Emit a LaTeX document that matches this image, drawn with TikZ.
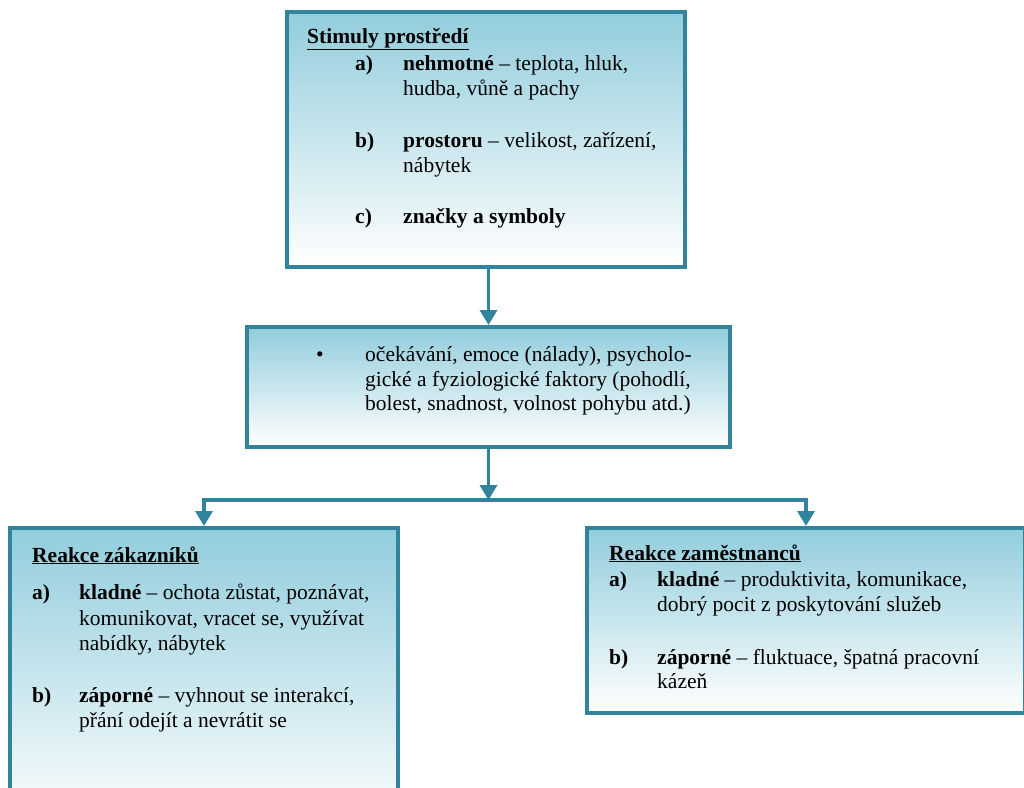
\documentclass[tikz,border=0pt]{standalone}
\usepackage{fontspec}
\setmainfont{Liberation Serif}
\usetikzlibrary{arrows.meta}
\definecolor{tealb}{RGB}{49,132,155}
\definecolor{lblue}{RGB}{146,205,220}
\begin{document}
\begin{tikzpicture}[x=1pt,y=-1pt,
  font=\fontsize{21.5}{25}\selectfont,
  box/.style={draw=tealb, line width=4pt, top color=lblue, bottom color=white, inner sep=0pt},
  conn/.style={draw=tealb, line width=3.5pt, line join=miter, -{Triangle[width=17pt,length=15pt]}},
  txt/.style={anchor=base west, inner sep=0pt, text=black}]
\clip (0,0) rectangle (1024,787);
\fill[white] (0,0) rectangle (1024,787);

% boxes
\node[box, minimum width=398pt, minimum height=255pt] (top) at (486,139.5) {};
\node[box, minimum width=483pt, minimum height=120pt] (mid) at (488.5,387) {};
\node[box, minimum width=388pt, minimum height=302pt] (left) at (204,679) {};
\node[box, minimum width=438pt, minimum height=185pt] (right) at (806,620.5) {};

% connectors
\coordinate (split) at (488.5,500);
\draw[conn] (top.south -| mid.north) -- (mid.north);
\draw[conn] (mid.south) -- (split);
\draw[conn] (split) -| (left.north);
\draw[conn] (split) -| (right.north);

% top box text
\node[txt] (t0) at (307,43) {\underline{\textbf{Stimuly prostředí}}};
\node[txt] (ta) at (355,70) {\textbf{a)}};
\node[txt] (ta1) at (403,70) {\textbf{nehmotné} – teplota, hluk,};
\node[txt] (ta2) at (403,95) {hudba, vůně a pachy};
\node[txt] (tb) at (355,147) {\textbf{b)}};
\node[txt] (tb1) at (403,147) {\textbf{prostoru} – velikost, zařízení,};
\node[txt] (tb2) at (403,172) {nábytek};
\node[txt] (tc) at (355,223) {\textbf{c)}};
\node[txt] (tc1) at (403,223) {\textbf{značky a symboly}};

% middle box text
\node[txt] (mb) at (316,361) {•};
\node[txt] (m1) at (365,361) {očekávání, emoce (nálady), psycholo-};
\node[txt] (m2) at (365,386) {gické a fyziologické faktory (pohodlí,};
\node[txt] (m3) at (365,410) {bolest, snadnost, volnost pohybu atd.)};

% left box text
\node[txt] (l0) at (32,562) {\underline{\textbf{Reakce zákazníků}}};
\node[txt] (la) at (32,599) {\textbf{a)}};
\node[txt] (la1) at (79,599) {\textbf{kladné} – ochota zůstat, poznávat,};
\node[txt] (la2) at (79,625) {komunikovat, vracet se, využívat};
\node[txt] (la3) at (79,650) {nabídky, nábytek};
\node[txt] (lb) at (32,702) {\textbf{b)}};
\node[txt] (lb1) at (79,702) {\textbf{záporné} – vyhnout se interakcí,};
\node[txt] (lb2) at (79,727) {přání odejít a nevrátit se};

% right box text
\node[txt] (r0) at (609,560) {\underline{\textbf{Reakce zaměstnanců}}};
\node[txt] (ra) at (609,586) {\textbf{a)}};
\node[txt] (ra1) at (657,586) {\textbf{kladné} – produktivita, komunikace,};
\node[txt] (ra2) at (657,611) {dobrý pocit z poskytování služeb};
\node[txt] (rb) at (609,664) {\textbf{b)}};
\node[txt] (rb1) at (657,664) {\textbf{záporné} – fluktuace, špatná pracovní};
\node[txt] (rb2) at (657,688) {kázeň};
\end{tikzpicture}
\end{document}
